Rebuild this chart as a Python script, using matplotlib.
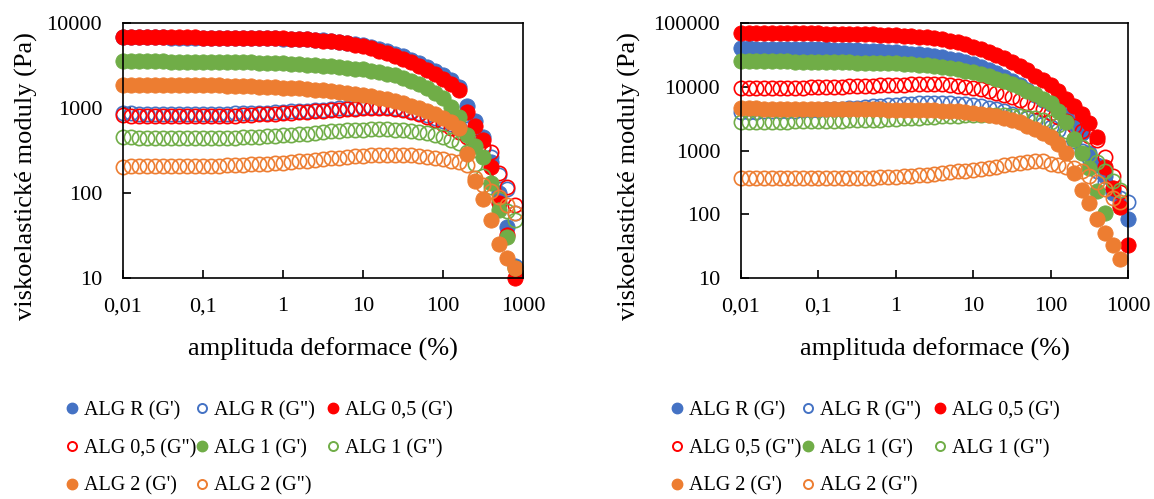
import matplotlib
matplotlib.use('Agg')
import matplotlib.pyplot as plt
from matplotlib.lines import Line2D

plt.rcParams['font.family'] = ['Liberation Serif', 'DejaVu Serif']

# strain amplitude (%)
strain = [0.01, 0.0126, 0.0158, 0.02, 0.0251, 0.0316, 0.0398, 0.0501, 0.0631, 0.0794,
          0.1, 0.126, 0.158, 0.2, 0.251, 0.316, 0.398, 0.501, 0.631, 0.794,
          1, 1.26, 1.58, 2, 2.51, 3.16, 3.98, 5.01, 6.31, 7.94,
          10, 12.6, 15.8, 20, 25.1, 31.6, 39.8, 50.1, 63.1, 79.4,
          100, 126, 158, 200, 251, 316, 398, 501, 631, 794, 1000]

labels = ["ALG R (G')", 'ALG R (G")', "ALG 0,5 (G')", 'ALG 0,5 (G")',
          "ALG 1 (G')", 'ALG 1 (G")', "ALG 2 (G')", 'ALG 2 (G")']
colors = ['#4472C4', '#4472C4', '#FF0000', '#FF0000', '#70AD47', '#70AD47', '#ED7D31', '#ED7D31']
filled = [True, False, True, False, True, False, True, False]

# left chart (Pa)
left_R_G1 = [6800, 6800, 6790, 6780, 6770, 6760, 6750, 6740, 6730, 6720,
             6710, 6700, 6690, 6680, 6670, 6660, 6650, 6640, 6620, 6600,
             6570, 6530, 6480, 6420, 6350, 6260, 6150, 6020, 5860, 5670,
             5460, 5220, 4950, 4660, 4360, 4040, 3710, 3390, 3070, 2750,
             2440, 2120, 1780, 1050, 700, 450, 230, 100, 40, 14]
left_R_G2 = [880, 870, 860, 860, 860, 860, 860, 860, 860, 860,
             860, 860, 860, 860, 865, 870, 875, 880, 885, 890,
             900, 910, 920, 930, 945, 960, 975, 990, 1000, 1010,
             1020, 1030, 1030, 1020, 1000, 970, 930, 880, 820, 760,
             700, 640, 600, 560, 420, 340, 265, 163, 110, 58]
left_05_G1 = [6850, 6840, 6830, 6820, 6810, 6800, 6790, 6780, 6770, 6760,
              6750, 6740, 6730, 6720, 6710, 6700, 6690, 6670, 6650, 6620,
              6580, 6530, 6470, 6400, 6320, 6220, 6100, 5950, 5780, 5560,
              5300, 5020, 4720, 4410, 4090, 3770, 3450, 3140, 2820, 2500,
              2200, 1900, 1620, 900, 620, 420, 200, 76, 32, 10]
left_05_G2 = [820, 810, 800, 800, 800, 800, 800, 800, 800, 800,
              800, 800, 805, 810, 815, 820, 830, 840, 850, 860,
              870, 880, 890, 900, 915, 930, 945, 960, 975, 985,
              995, 1000, 1000, 990, 970, 940, 900, 850, 790, 720,
              650, 580, 520, 450, 400, 350, 300, 170, 117, 72]
left_1_G1 = [3550, 3550, 3540, 3540, 3530, 3530, 3520, 3520, 3510, 3510,
             3500, 3490, 3480, 3470, 3460, 3450, 3430, 3410, 3390, 3370,
             3340, 3310, 3280, 3240, 3200, 3150, 3100, 3040, 2980, 2910,
             2840, 2750, 2650, 2540, 2420, 2250, 2080, 1900, 1710, 1510,
             1300, 1020, 780, 480, 360, 265, 130, 63, 30, 13]
left_1_G2 = [460, 450, 445, 440, 440, 440, 440, 440, 440, 440,
             440, 440, 440, 445, 445, 450, 455, 460, 465, 470,
             475, 480, 490, 500, 510, 520, 530, 540, 545, 550,
             555, 560, 560, 560, 555, 550, 540, 525, 505, 480,
             450, 420, 390, 300, 220, 160, 118, 85, 62, 48]
left_2_G1 = [1880, 1880, 1880, 1870, 1870, 1870, 1860, 1860, 1860, 1850,
             1850, 1840, 1840, 1830, 1820, 1810, 1800, 1790, 1780, 1760,
             1740, 1720, 1700, 1680, 1650, 1620, 1590, 1550, 1510, 1470,
             1420, 1370, 1320, 1260, 1200, 1140, 1070, 1000, 930, 850,
             770, 680, 580, 290, 140, 85, 48, 25, 17, 13]
left_2_G2 = [205, 210, 210, 210, 210, 210, 210, 210, 210, 210,
             210, 210, 210, 212, 214, 216, 218, 220, 222, 225,
             228, 232, 236, 240, 245, 250, 255, 260, 265, 270,
             274, 278, 280, 282, 282, 280, 277, 272, 266, 258,
             250, 240, 230, 213, 150, 125, 105, 90, 72, 58]

# right chart (Pa)
right_R_G1 = [40000, 39900, 39800, 39700, 39600, 39500, 39400, 39300, 39100, 38900,
              38700, 38500, 38300, 38000, 37700, 37400, 37000, 36500, 36000, 35400,
              34700, 34000, 33200, 32300, 31300, 30200, 29000, 27600, 26000, 24300,
              22400, 20400, 18300, 16200, 14200, 12300, 10500, 8900, 7500, 6300,
              5300, 4400, 3500, 2600, 1900, 900, 600, 400, 215, 140, 84]
right_R_G2 = [4000, 4000, 4050, 4100, 4100, 4150, 4200, 4200, 4250, 4300,
              4350, 4400, 4450, 4500, 4600, 4700, 4800, 4900, 5000, 5100,
              5200, 5300, 5400, 5500, 5550, 5600, 5600, 5550, 5450, 5300,
              5100, 4900, 4700, 4400, 4100, 3800, 3500, 3200, 2900, 2600,
              2350, 2100, 1800, 1400, 1000, 750, 480, 320, 230, 180, 155]
right_05_G1 = [70000, 69900, 69800, 69700, 69600, 69500, 69300, 69100, 68900, 68700,
               68500, 68200, 67900, 67600, 67300, 67000, 66700, 66300, 65900, 65300,
               64500, 63500, 62300, 60900, 59300, 57400, 55200, 52700, 49700, 46300,
               42500, 39000, 35500, 32000, 28000, 24500, 21000, 18000, 15000, 12800,
               10800, 8600, 6500, 4900, 3700, 2700, 1600, 550, 260, 130, 33]
right_05_G2 = [9500, 9500, 9500, 9550, 9600, 9600, 9650, 9700, 9700, 9750,
               9800, 9850, 9900, 10000, 10100, 10200, 10300, 10400, 10500, 10600,
               10700, 10800, 10900, 11000, 11000, 11000, 10900, 10700, 10400, 10000,
               9600, 9100, 8600, 8000, 7400, 6800, 6200, 5600, 5000, 4400,
               3900, 3400, 2900, 2400, 2000, 1700, 1450, 800, 400, 225]
right_1_G1 = [25500, 25400, 25300, 25200, 25100, 25000, 24900, 24800, 24700, 24600,
              24500, 24400, 24300, 24200, 24100, 24000, 23900, 23800, 23600, 23500,
              23300, 23000, 22600, 22200, 21700, 21100, 20400, 19600, 18700, 17800,
              16800, 15700, 14600, 13400, 12200, 11000, 9800, 8700, 7600, 6500,
              5600, 4200, 2800, 1500, 900, 530, 230, 105]
right_1_G2 = [2850, 2850, 2850, 2850, 2850, 2850, 2850, 2860, 2870, 2880,
              2890, 2900, 2920, 2940, 2960, 2980, 3000, 3030, 3060, 3100,
              3140, 3180, 3220, 3270, 3320, 3370, 3420, 3470, 3520, 3560,
              3600, 3620, 3630, 3620, 3590, 3540, 3460, 3350, 3200, 3000,
              2780, 2500, 2000, 1500, 1150, 850, 650, 480, 330, 240]
right_2_G1 = [4600, 4580, 4560, 4550, 4540, 4530, 4520, 4510, 4500, 4490,
              4480, 4470, 4460, 4450, 4440, 4430, 4420, 4410, 4400, 4390,
              4380, 4370, 4350, 4330, 4300, 4270, 4230, 4180, 4120, 4000,
              3900, 3780, 3620, 3440, 3240, 3020, 2750, 2450, 2150, 1880,
              1600, 1250, 900, 450, 240, 150, 85, 50, 33, 20]
right_2_G2 = [370, 370, 365, 365, 365, 365, 365, 365, 365, 365,
              365, 365, 365, 365, 370, 370, 375, 375, 380, 385,
              390, 395, 400, 410, 420, 430, 440, 455, 470, 485,
              500, 520, 540, 560, 585, 610, 635, 660, 680, 690,
              620, 590, 560, 530, 480, 400, 320, 250, 180, 155]

left_series = [left_R_G1, left_R_G2, left_05_G1, left_05_G2, left_1_G1, left_1_G2, left_2_G1, left_2_G2]
right_series = [right_R_G1, right_R_G2, right_05_G1, right_05_G2, right_1_G1, right_1_G2, right_2_G1, right_2_G2]

xticks = [0.01, 0.1, 1, 10, 100, 1000]
xticklabels = ['0,01', '0,1', '1', '10', '100', '1000']

W, H = 1154, 499
fig = plt.figure(figsize=(W / 100, H / 100), dpi=100)


def panel(box, series, ymax, yticklabels):
    ax = fig.add_axes([box[0] / W, 1 - box[3] / H, (box[2] - box[0]) / W, (box[3] - box[1]) / H])
    for vals, c, f in zip(series, colors, filled):
        if f:
            ax.plot(strain[:len(vals)], vals, 'o', ms=11, mfc=c, mec=c, mew=0.6, clip_on=False)
        else:
            ax.plot(strain[:len(vals)], vals, 'o', ms=10.3, mfc='none', mec=c, mew=1.2, clip_on=False)
    ax.set_xscale('log')
    ax.set_yscale('log')
    ax.set_xlim(0.01, 1000)
    ax.set_ylim(10, ymax)
    ax.set_xticks(xticks)
    ax.set_xticklabels(xticklabels)
    yt = [10 ** k for k in range(1, len(yticklabels) + 1)]
    ax.set_yticks(yt)
    ax.set_yticklabels(yticklabels)
    ax.minorticks_off()
    ax.tick_params(axis='both', direction='in', length=6, width=1.2, labelsize=16)
    ax.tick_params(axis='x', pad=14)
    ax.tick_params(axis='y', pad=15)
    for s in ax.spines.values():
        s.set_linewidth(1.2)
    ax.set_xlabel('amplituda deformace (%)', fontsize=19, labelpad=15)
    return ax


def legend_cols(xs, y):
    handles = []
    for c, f in zip(colors, filled):
        if f:
            handles.append(Line2D([], [], ls='none', marker='o', ms=7.5, mfc=c, mec=c))
        else:
            handles.append(Line2D([], [], ls='none', marker='o', ms=6.5, mfc='none', mec=c, mew=1.4))
    for col in range(3):
        idx = [i for i in (col, col + 3, col + 6) if i < len(labels)]
        fig.legend([handles[i] for i in idx], [labels[i] for i in idx],
                   loc='upper left', bbox_to_anchor=((xs[col] - 6) / W, 1 - y / H),
                   frameon=False, fontsize=14.5, handlelength=0.6, handletextpad=0.3,
                   labelspacing=0.92, borderpad=0, borderaxespad=0)


panel((123, 23, 523, 278), left_series, 10000, ['10', '100', '1000', '10000'])
panel((741, 23, 1128, 278), right_series, 100000, ['10', '100', '1000', '10000', '100000'])

fig.text(26 / W, 1 - 176 / H, 'viskoelastické moduly (Pa)', rotation=90, ha='center', va='center', fontsize=19)
fig.text(629 / W, 1 - 176 / H, 'viskoelastické moduly (Pa)', rotation=90, ha='center', va='center', fontsize=19)

legend_cols([72, 202, 333], 401)
legend_cols([677, 808, 940], 401)

fig.savefig('out.png', dpi=100)
